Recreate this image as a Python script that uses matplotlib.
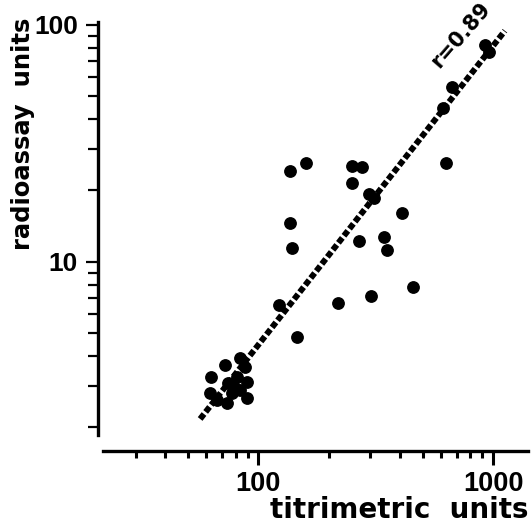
import matplotlib
matplotlib.use('Agg')
import matplotlib.pyplot as plt
from matplotlib.ticker import FixedLocator, NullFormatter, FixedFormatter

# titrimetric (x) vs radioassay (y) units
titri = [62.7, 62.3, 72.2, 83.6, 87.8, 80.9, 74.5, 89.3, 83.6, 79.6, 73.4, 66.5, 89.3, 77.0,
         146, 123, 219, 301, 457, 139, 136, 268, 343, 352, 410,
         137, 160, 250, 275, 250, 296, 311, 627, 612, 665, 922, 959]
radio = [3.27, 2.78, 3.67, 3.91, 3.61, 3.27, 3.07, 3.12, 2.88, 2.92, 2.53, 2.61, 2.65, 2.78,
         4.83, 6.57, 6.67, 7.17, 7.84, 11.4, 14.5, 12.2, 12.75, 11.2, 16.1,
         24.1, 26.2, 25.3, 25.0, 21.4, 19.4, 18.5, 26.0, 44.4, 54.7, 82.1, 76.7]

fit_x = [56.5, 1121]
fit_y = [2.17, 94.3]

x_major = [100, 1000]
x_minor = [30, 40, 50, 60, 70, 80, 90, 200, 300, 400, 500, 600, 700, 800, 900]
y_major = [10, 100]
y_minor = [2, 3, 4, 5, 6, 7, 8, 9, 20, 30, 40, 50, 60, 70, 80, 90]

tickfont = 'Liberation Sans'

fig = plt.figure(figsize=(5.31, 5.29), dpi=100)
ax = fig.add_axes([103/531, 1-435/529, 425/531, 413/529])

ax.plot(titri, radio, 'o', color='black', ms=8.2, zorder=3)
ax.plot(fit_x, fit_y, color='black', lw=4.3, dashes=(1.05, 0.45),
        dash_capstyle='butt', zorder=2)

ax.set_xscale('log')
ax.set_yscale('log')
ax.set_xlim(21.8, 1406)
ax.set_ylim(1.857, 102.7)

for s in ['top', 'right']:
    ax.spines[s].set_visible(False)
ax.spines['left'].set_position(('outward', 3.6))
ax.spines['bottom'].set_position(('outward', 11.5))
ax.spines['left'].set_linewidth(2.4)
ax.spines['bottom'].set_linewidth(2.4)

ax.xaxis.set_major_locator(FixedLocator(x_major))
ax.xaxis.set_minor_locator(FixedLocator(x_minor))
ax.xaxis.set_major_formatter(FixedFormatter(['100', '1000']))
ax.xaxis.set_minor_formatter(NullFormatter())
ax.yaxis.set_major_locator(FixedLocator(y_major))
ax.yaxis.set_minor_locator(FixedLocator(y_minor))
ax.yaxis.set_major_formatter(FixedFormatter(['10', '100']))
ax.yaxis.set_minor_formatter(NullFormatter())

ax.tick_params(axis='x', which='major', length=10, width=2.2, pad=4.5)
ax.tick_params(axis='x', which='minor', length=5, width=2.2)
ax.tick_params(axis='y', which='major', length=8.5, width=1.6, pad=6)
ax.tick_params(axis='y', which='minor', length=7, width=1.6)

for lab in ax.get_xticklabels():
    lab.set_family(tickfont)
    lab.set_fontsize(19.5)
    lab.set_fontweight('bold')
for lab in ax.get_yticklabels():
    lab.set_family(tickfont)
    lab.set_fontsize(19)
    lab.set_fontweight('bold')

ax.set_xlabel('titrimetric  units', fontsize=20, fontweight='bold', loc='right')
ax.xaxis.set_label_coords(1.0, -0.147)
ax.set_ylabel('radioassay  units', fontsize=17.5, fontweight='bold', loc='top')
ax.yaxis.set_label_coords(-0.16, 1.01)

ax.text(0.842, 0.968, 'r=0.89', fontsize=15, fontweight='bold', rotation=49,
        ha='center', va='center', transform=ax.transAxes)

fig.savefig('out.png', dpi=100)
